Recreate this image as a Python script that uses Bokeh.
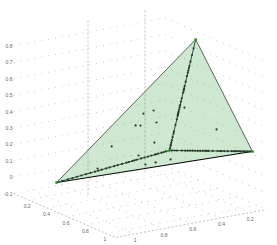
from bokeh.plotting import figure
from bokeh.embed import file_html
from bokeh.resources import INLINE
from bokeh.models import Range1d
from bokeh.core.properties import value
import numpy as np

# axis ticks
z_ticks = [-0.1, 0, 0.1, 0.2, 0.3, 0.4, 0.5, 0.6, 0.7, 0.8]
z_labels = ["-0.1", "0", "0.1", "0.2", "0.3", "0.4", "0.5", "0.6", "0.7", "0.8"]
a_ticks = [0.2, 0.4, 0.6, 0.8, 1.0]
a_labels = ["0.2", "0.4", "0.6", "0.8", "1"]
b_ticks = [0.2, 0.4, 0.6, 0.8, 1.0]
b_labels = ["0.2", "0.4", "0.6", "0.8", "1"]

# simplex vertices (a, b, z)
apex = (0.507, 0.172, 0.80)
left_v = (0.274, 0.982, 0.00)
right_v = (1.046, 0.141, 0.25)
inner = (0.225, 0.164, 0.05)

# samples lying on the inner edges: fraction from the inner vertex
to_apex = [0.02, 0.04, 0.05, 0.07, 0.09, 0.12, 0.17, 0.23, 0.28, 0.31, 0.32, 0.33, 0.34, 0.35,
           0.37, 0.39, 0.41, 0.44, 0.47, 0.52, 0.54, 0.55, 0.56, 0.58, 0.62, 0.67, 0.70, 0.72, 0.74,
           0.76, 0.80, 0.86, 0.92]
to_left = [0.03, 0.05, 0.07, 0.10, 0.12, 0.13, 0.16, 0.19, 0.22, 0.25, 0.29, 0.31, 0.33, 0.36, 0.38,
           0.42, 0.46, 0.49, 0.53, 0.56, 0.60, 0.63, 0.66, 0.70, 0.74, 0.78, 0.82, 0.86, 0.90, 0.95]
to_right = [0.03, 0.06, 0.09, 0.15, 0.19, 0.22, 0.25, 0.28, 0.31, 0.34, 0.37, 0.40, 0.43, 0.45, 0.47,
            0.52, 0.58, 0.61, 0.63, 0.66, 0.70, 0.75, 0.78, 0.80, 0.82, 0.84, 0.86, 0.89, 0.91, 0.94, 0.97]

# loose samples: weights on apex and right vertex (rest on left vertex)
loose_apex = [.468, .456, .365, .452, .062, .226, .368, .361, .229, .202, .041, .036, .032, .252, .116]
loose_right = [.163, .120, .251, .332, .165, .121, .142, .172, .654, .356, .553, .480, .431, .418, .336]

A_MIN, A_MAX = 0.05, 1.10
B_MIN, B_MAX = 0.08, 1.13
Z_MIN, Z_MAX = -0.1, 0.8


def proj(a, b, z):
    a, b, z = np.asarray(a, float), np.asarray(b, float), np.asarray(z, float)
    x = 115 - (A_MAX - a) * 97.1 + (B_MAX - b) * 143.8
    y = 237 - (A_MAX - a) * 41.9 - (B_MAX - b) * 26.7 - (z - Z_MIN) * 164
    return x, y


p = figure(width=277, height=245, output_backend="svg", toolbar_location=None,
           x_range=Range1d(0, 277), y_range=Range1d(245, 0),
           min_border=0, outline_line_color=None, margin=(0, 0, 0, 0))
p.axis.visible = False
p.grid.visible = False
p.background_fill_color = "white"
p.border_fill_color = "white"

GRID = dict(line_color="#bdbdbd", line_width=0.8, line_dash="1 6")
# wall gridlines
for z in z_ticks:
    xs, ys = proj([A_MIN, A_MIN, A_MAX], [B_MAX, B_MIN, B_MIN], [z, z, z])
    p.line(xs, ys, **GRID)
# floor gridlines
for a in a_ticks:
    xs, ys = proj([a, a], [B_MIN, B_MAX], [Z_MIN, Z_MIN])
    p.line(xs, ys, **GRID)
for b in b_ticks:
    xs, ys = proj([A_MIN, A_MAX], [b, b], [Z_MIN, Z_MIN])
    p.line(xs, ys, **GRID)

# box edges
AX = dict(line_color="#b0b0b0", line_width=0.8, line_dash="2 2")
xs, ys = proj([A_MIN, A_MAX, A_MAX], [B_MAX, B_MAX, B_MIN], [Z_MIN, Z_MIN, Z_MIN])
p.line(xs, ys, **AX)
p.line([87.5, 87.5], [20, 195], **AX)
p.line([144.5, 144.5], [10, 172], **AX)

# simplex
vx, vy = proj(*zip(apex, right_v, left_v))
p.patch(vx, vy, fill_color="#2e9b3e", fill_alpha=0.23, line_color=None)
ax, ay = proj(*apex)
lx, ly = proj(*left_v)
rx, ry = proj(*right_v)
ix, iy = proj(*inner)
p.line([lx, ax, rx], [ly, ay, ry], line_color="#1c2a1c", line_width=0.7)
p.line([lx, rx], [ly, ry], line_color="#000000", line_width=1.0)
for vxx, vyy in ((ax, ay), (lx, ly), (rx, ry)):
    p.line([ix, vxx], [iy, vyy], line_color="#2c4f38", line_width=1.0)

# samples
px, py = [], []
for frac, (tx, ty) in ((to_apex, (ax, ay)), (to_left, (lx, ly)), (to_right, (rx, ry))):
    f = np.array(frac)
    px += list(ix + f * (tx - ix))
    py += list(iy + f * (ty - iy))
wa, wr = np.array(loose_apex), np.array(loose_right)
px += list(lx + wa * (ax - lx) + wr * (rx - lx))
py += list(ly + wa * (ay - ly) + wr * (ry - ly))
p.scatter(px, py, size=2.2, marker="circle", fill_color="#2b3a2f", line_color=None)
p.scatter([ax, lx, rx, ix], [ay, ly, ry, iy], size=2.5, marker="square", fill_color="#12a012", line_color=None)

# tick labels
TXT = dict(text_font=value("Liberation Sans"), text_font_size="5px", text_color="#666666",
           text_baseline="middle")
lab_x, lab_y = proj([A_MIN] * len(z_ticks), [B_MAX] * len(z_ticks), z_ticks)
p.text(lab_x - 1, lab_y, text=z_labels, text_align="right", **TXT)
lab_x, lab_y = proj(a_ticks, [B_MAX] * len(a_ticks), [Z_MIN] * len(a_ticks))
p.text(lab_x - 1, lab_y + 6, text=a_labels, text_align="center", **TXT)
lab_x, lab_y = proj([A_MAX] * len(b_ticks), b_ticks, [Z_MIN] * len(b_ticks))
p.text(lab_x + 1, lab_y + 6, text=b_labels, text_align="center", **TXT)

open("out.html", "w").write(file_html(p, INLINE))
